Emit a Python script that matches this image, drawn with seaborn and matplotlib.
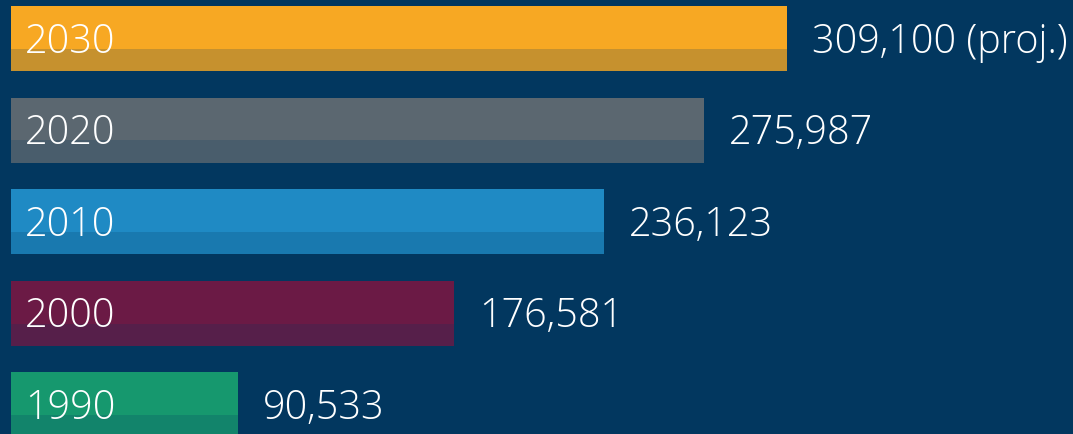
import seaborn as sns
import pandas as pd
import matplotlib.pyplot as plt
from matplotlib.patches import Rectangle

# DATA
years = ["2030", "2020", "2010", "2000", "1990"]
population = [309100, 275987, 236123, 176581, 90533]
value_labels = ["309,100 (proj.)", "275,987", "236,123", "176,581", "90,533"]
bar_colors = ["#F7A823", "#5B6770", "#1F8AC4", "#6B1A45", "#16986E"]
bg_color = "#02375F"

df = pd.DataFrame({"year": years, "population": population})

# PLOT SETTING
sns.set_theme(style="white")
plt.rcParams['font.family'] = ['Open Sans', 'DejaVu Sans']

fig = plt.figure(figsize=(10.73, 4.34), dpi=100, facecolor=bg_color)
ax = fig.add_axes([0, 0, 1, 1])
ax.set_facecolor(bg_color)

sns.barplot(data=df, y="year", x="population", hue="year", palette=bar_colors,
            order=years, hue_order=years, orient="h", width=0.71,
            saturation=1, legend=False, linewidth=0, ax=ax)

# darker lower band on every bar
for p in list(ax.patches):
    p.set_edgecolor("none")
    x0, y0 = p.get_x(), p.get_y()
    w, h = p.get_width(), p.get_height()
    ax.add_patch(Rectangle((x0, y0 + h * 0.66), w, h * 0.34, facecolor=bg_color,
                           alpha=0.2, edgecolor="none", linewidth=0))

ax.set_xlim(-4382, 423107)
ax.set_ylim(4.32, -0.421)

# LABELS
for i, (yr, val, lbl) in enumerate(zip(years, population, value_labels)):
    ax.text(5600, i + 0.04, yr, color="white", fontsize=28.5, fontweight="light",
            va="center", ha="left")
    ax.text(val + 10000, i + 0.04, lbl, color="white", fontsize=28.5, fontweight="light",
            va="center", ha="left")

ax.set_axis_off()
plt.savefig("out.png", dpi=100, facecolor=bg_color)
plt.close()
